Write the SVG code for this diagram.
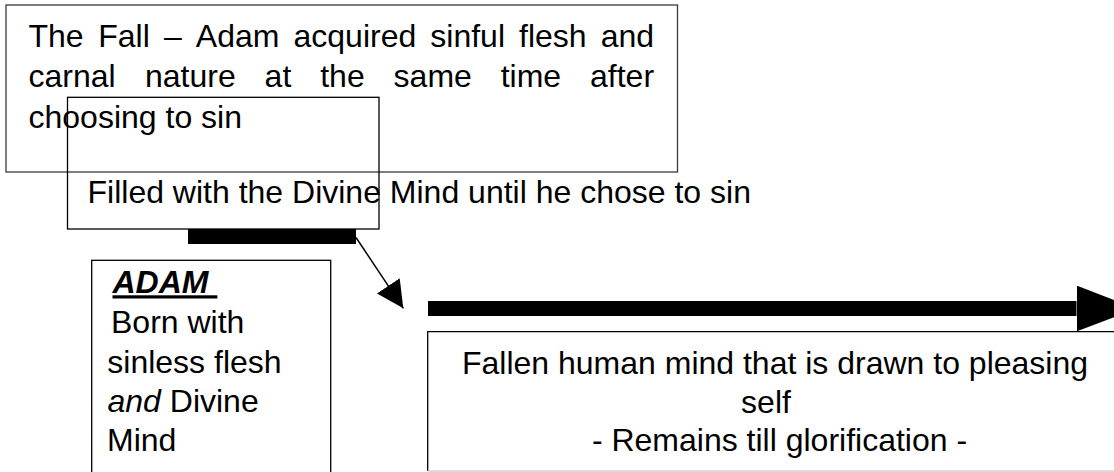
<svg xmlns="http://www.w3.org/2000/svg" width="1114" height="472" viewBox="0 0 1114 472">
<style>
text{font-family:"Liberation Sans",Arial,sans-serif;font-size:32px;fill:#000}
.box{fill:none;stroke:#000;stroke-width:1.3}
.grey{stroke:#3a3a3a}
.bi{font-weight:bold;font-style:italic;text-decoration:underline}
.it{font-style:italic}
</style>
<defs>
<marker id="thinHead" markerUnits="userSpaceOnUse" markerWidth="28" markerHeight="28" refX="27" refY="13.7" orient="auto" viewBox="0 0 28 28">
<path d="M0,0 L27,13.7 L0,27.4 Z" fill="#000"/>
</marker>
<marker id="bigHead" markerUnits="userSpaceOnUse" markerWidth="62" markerHeight="48" refX="0" refY="23" orient="auto" viewBox="0 0 62 48">
<path d="M0,0 L60,23 L0,46 Z" fill="#000"/>
</marker>
</defs>
<rect width="1114" height="472" fill="#fff"/>
<g id="fall">
<rect class="box grey" x="6" y="5" width="671.5" height="167"/>
<text y="46.7"><tspan x="28.5">The</tspan><tspan x="98.2">Fall</tspan><tspan x="163.9">–</tspan><tspan x="195.8">Adam</tspan><tspan x="293.5">acquired</tspan><tspan x="430.3">sinful</tspan><tspan x="519">flesh</tspan><tspan x="600.7">and</tspan></text>
<text y="87.3"><tspan x="28.5">carnal</tspan><tspan x="145">nature</tspan><tspan x="264.6">at</tspan><tspan x="320.2">the</tspan><tspan x="393.6">same</tspan><tspan x="500.7">time</tspan><tspan x="590">after</tspan></text>
<text x="28.5" y="127.7">choosing to sin</text>
</g>
<g id="divine-mind">
<rect class="box" x="67.5" y="97.3" width="311.5" height="131.7"/>
<text x="87.5" y="202.7">Filled with the Divine Mind until he chose to sin</text>
</g>
<g id="adam">
<rect class="box" x="91.7" y="260.3" width="239" height="230"/>
<text class="bi" x="112.5" y="293.3" xml:space="preserve">ADAM </text>
<text x="111" y="333.3">Born with</text>
<text x="107.3" y="373.3">sinless flesh</text>
<text x="107.5" y="412.3"><tspan class="it">and</tspan> Divine</text>
<text x="107" y="450.7">Mind</text>
</g>
<g id="fallen-mind">
<path class="box" d="M1120,331.7 H427.7 V471"/>
<line x1="427.7" y1="471" x2="1120" y2="471" stroke="#d0d0d0" stroke-width="1.3"/>
<text x="775" y="374" text-anchor="middle">Fallen human mind that is drawn to pleasing</text>
<text x="766" y="412.7" text-anchor="middle">self</text>
<text x="779.5" y="451" text-anchor="middle">- Remains till glorification -</text>
</g>
<g id="connectors">
<rect x="188" y="229" width="168" height="15" fill="#000"/>
<line x1="356" y1="237.5" x2="403.3" y2="308.3" stroke="#000" stroke-width="1.5" marker-end="url(#thinHead)"/>
<line x1="428" y1="308.5" x2="1076.5" y2="308.5" stroke="#000" stroke-width="15" marker-end="url(#bigHead)"/>
</g>
</svg>
